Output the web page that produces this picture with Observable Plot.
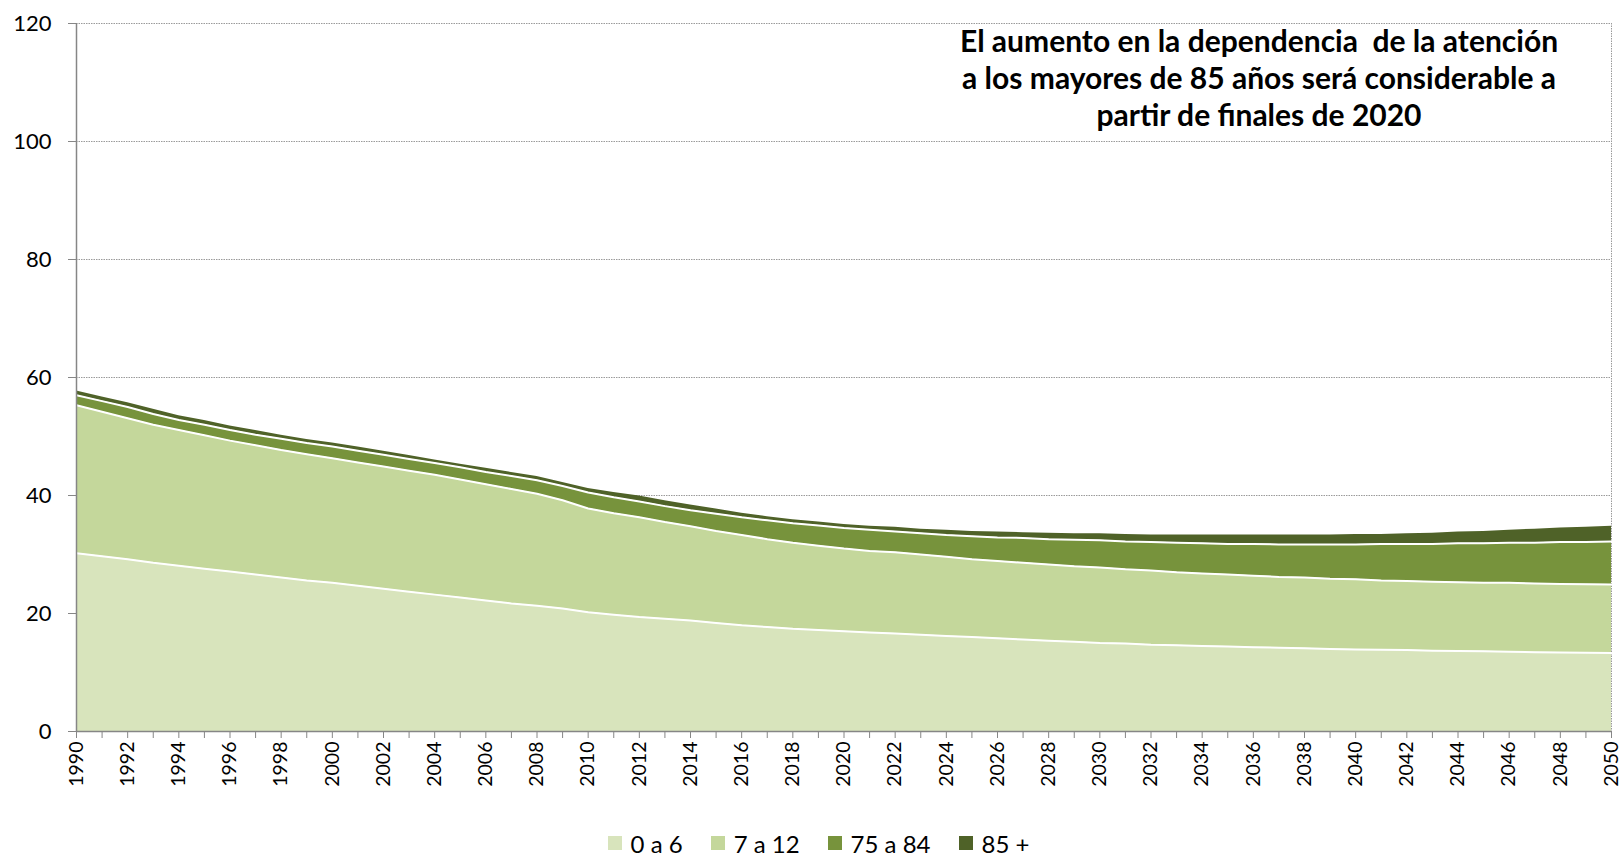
<!DOCTYPE html>
<html>
<head>
<meta charset="utf-8">
<script src="https://cdn.jsdelivr.net/npm/d3@7"></script>
<script src="https://cdn.jsdelivr.net/npm/@observablehq/plot@0.6"></script>
<style>
  html, body { margin: 0; padding: 0; background: #fff; }
  #chart { width: 1623px; }
  #legend { display: flex; justify-content: center; align-items: center; height: 46px; font-family: Lato, "Open Sans", sans-serif; font-size: 24px; color: #000; padding-left: 14px; }
  .item { display: flex; align-items: center; margin: 0 14px; }
  .sw { width: 14px; height: 14px; margin-right: 9px; }
</style>
</head>
<body>
<div id="chart"></div>
<div id="legend"></div>
<script>
// ---- data ----
const years = d3.range(1990, 2051);
const seriesNames = ["0 a 6", "7 a 12", "75 a 84", "85 +"];
const seriesColors = ["#d8e4bc", "#c4d79b", "#77933c", "#4f6228"];
const yTicks = [0, 20, 40, 60, 80, 100, 120];
const xLabelYears = d3.range(1990, 2051, 2);
const titleText = "El aumento en la dependencia  de la atención\na los mayores de 85 años será considerable a\npartir de finales de 2020";

const age0to6 = [30.2,29.7,29.2,28.6,28.1,27.6,27.1,26.6,26.1,25.6,
  25.2,24.7,24.2,23.7,23.2,22.7,22.2,21.7,21.3,20.85,
  20.2,19.8,19.4,19.1,18.8,18.4,18.0,17.7,17.4,17.2,
  17.0,16.8,16.6,16.4,16.2,16.0,15.8,15.6,15.4,15.2,
  15.0,14.9,14.7,14.6,14.5,14.4,14.3,14.2,14.1,14.0,
  13.9,13.85,13.8,13.7,13.65,13.6,13.5,13.45,13.4,13.35,13.3];
const age7to12 = [25.1,24.5,23.9,23.4,23.0,22.6,22.2,21.9,21.6,21.4,
  21.1,20.9,20.7,20.5,20.3,20.0,19.7,19.4,19.0,18.35,
  17.6,17.2,16.9,16.4,16.0,15.6,15.3,14.9,14.6,14.3,
  14.0,13.8,13.8,13.6,13.4,13.2,13.1,13.0,12.9,12.8,
  12.8,12.6,12.6,12.4,12.3,12.2,12.1,12.0,12.0,11.9,
  11.9,11.75,11.7,11.7,11.65,11.6,11.7,11.65,11.6,11.6,11.6];
const age75to84 = [1.7,1.8,1.9,1.8,1.7,1.8,1.8,1.8,1.9,1.9,
  2.0,2.0,2.0,2.0,2.0,2.1,2.1,2.2,2.3,2.4,
  2.7,2.7,2.7,2.7,2.7,2.9,3.0,3.2,3.3,3.4,
  3.5,3.6,3.5,3.6,3.7,3.9,4.0,4.2,4.3,4.5,
  4.6,4.7,4.8,5.0,5.1,5.2,5.4,5.5,5.6,5.8,
  5.9,6.2,6.3,6.4,6.6,6.7,6.8,6.9,7.1,7.15,7.3];
const age85plus = [0.7,0.7,0.7,0.8,0.7,0.7,0.7,0.7,0.6,0.6,
  0.6,0.6,0.6,0.6,0.5,0.5,0.6,0.6,0.6,0.6,
  0.7,0.8,0.9,0.9,0.9,0.8,0.7,0.6,0.6,0.6,
  0.6,0.6,0.7,0.7,0.8,0.8,0.9,0.9,1.0,1.0,
  1.1,1.2,1.2,1.3,1.4,1.5,1.5,1.6,1.6,1.6,
  1.7,1.6,1.7,1.8,1.9,2.0,2.1,2.3,2.4,2.5,2.6];

const seriesValues = [age0to6, age7to12, age75to84, age85plus];
const rows = [];
seriesNames.forEach((s, i) => years.forEach((yr, j) => rows.push({year: yr, series: s, value: seriesValues[i][j]})));
const lineRows = rows.filter(d => d.series !== "85 +");

const chart = Plot.plot({
  width: 1623,
  height: 820,
  marginLeft: 76,
  marginRight: 12,
  marginTop: 23,
  marginBottom: 89,
  style: {fontFamily: "Lato, 'Open Sans', sans-serif", background: "#fff", color: "#000"},
  x: {domain: [1990, 2050], label: null},
  y: {domain: [0, 120], label: null},
  color: {domain: seriesNames, range: seriesColors},
  marks: [
    Plot.gridY(yTicks.filter(t => t > 0), {stroke: "#9a9a9a", strokeOpacity: 1, strokeDasharray: "1.5,1", strokeWidth: 1}),
    Plot.ruleX([2050], {stroke: "#9a9a9a", strokeDasharray: "1.5,1"}),
    Plot.areaY(rows, Plot.stackY({x: "year", y: "value", z: "series", fill: "series", order: seriesNames})),
    Plot.lineY(lineRows, Plot.stackY2({x: "year", y: "value", z: "series", stroke: "white", strokeWidth: 2, order: seriesNames})),
    Plot.ruleY([0], {stroke: "#868686", strokeWidth: 1.5}),
    Plot.ruleX([1990], {stroke: "#868686", strokeWidth: 1.5}),
    Plot.axisY({ticks: yTicks, tickSize: 8, tickPadding: 17, fontSize: 22, stroke: "#868686", tickFormat: d3.format("d"), label: null}),
    Plot.axisX({ticks: years, tickSize: 7, tickFormat: () => "", stroke: "#868686", label: null}),
    Plot.axisX({ticks: xLabelYears, tickSize: 0, tickPadding: 10, tickRotate: -90, fontSize: 19.5, tickFormat: d3.format("d"), label: null}),
    Plot.text([titleText], {frameAnchor: "top", dx: 415, dy: 2, lineAnchor: "top", lineHeight: 1.24, fontSize: 30, fontWeight: "bold", fontFamily: "Lato, 'Open Sans', sans-serif", fill: "#000"})
  ]
});
document.getElementById("chart").appendChild(chart);

const legend = document.getElementById("legend");
seriesNames.forEach((s, i) => {
  const item = document.createElement("div");
  item.className = "item";
  const sw = document.createElement("div");
  sw.className = "sw";
  sw.style.background = seriesColors[i];
  const label = document.createElement("span");
  label.textContent = s;
  item.appendChild(sw);
  item.appendChild(label);
  legend.appendChild(item);
});
</script>
</body>
</html>
